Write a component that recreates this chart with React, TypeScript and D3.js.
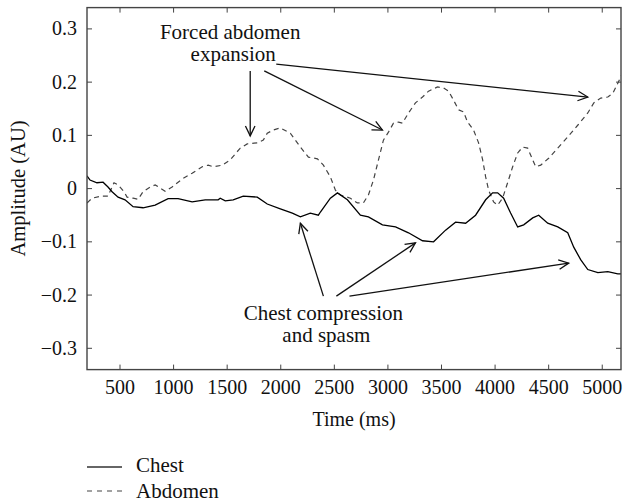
import React from "react";
import * as d3 from "d3";

const timeChest = [192, 220, 285, 342, 388, 426, 482, 547, 622, 715, 828, 949, 1042, 1173, 1295, 1416, 1435, 1482, 1556, 1650, 1781, 1874, 1996, 2108, 2183, 2276, 2351, 2370, 2463, 2529, 2622, 2743, 2818, 2949, 3071, 3192, 3323, 3426, 3538, 3631, 3725, 3818, 3912, 3977, 4024, 4080, 4145, 4211, 4267, 4351, 4407, 4491, 4585, 4678, 4734, 4800, 4865, 4959, 5052, 5145, 5183];
const chest = [0.024, 0.016, 0.011, 0.012, 0.003, -0.006, -0.016, -0.021, -0.034, -0.036, -0.031, -0.019, -0.019, -0.025, -0.021, -0.021, -0.018, -0.023, -0.021, -0.014, -0.016, -0.029, -0.038, -0.046, -0.053, -0.046, -0.05, -0.044, -0.018, -0.008, -0.021, -0.05, -0.053, -0.068, -0.072, -0.083, -0.098, -0.1, -0.078, -0.063, -0.065, -0.05, -0.021, -0.008, -0.008, -0.018, -0.046, -0.072, -0.068, -0.055, -0.05, -0.065, -0.072, -0.083, -0.11, -0.134, -0.152, -0.158, -0.156, -0.16, -0.16];

const timeAbdomen = [192, 239, 332, 388, 444, 482, 538, 566, 622, 669, 715, 781, 828, 874, 921, 986, 1080, 1173, 1267, 1323, 1370, 1454, 1528, 1622, 1687, 1781, 1837, 1874, 1930, 1996, 2089, 2183, 2258, 2342, 2398, 2463, 2510, 2557, 2650, 2715, 2771, 2818, 2865, 2912, 2958, 3005, 3052, 3099, 3136, 3192, 3257, 3323, 3379, 3463, 3519, 3566, 3613, 3659, 3706, 3743, 3799, 3846, 3884, 3912, 3940, 3986, 4024, 4070, 4117, 4164, 4211, 4257, 4304, 4351, 4379, 4426, 4500, 4585, 4678, 4771, 4865, 4921, 4986, 5052, 5099, 5145, 5183];
const abdomen = [-0.027, -0.018, -0.014, -0.014, 0.011, 0.007, -0.006, -0.016, -0.018, -0.02, -0.006, 0.003, 0.007, 0.001, -0.005, 0.003, 0.018, 0.029, 0.041, 0.044, 0.041, 0.044, 0.054, 0.076, 0.084, 0.086, 0.091, 0.104, 0.11, 0.114, 0.104, 0.078, 0.059, 0.056, 0.044, 0.022, -0.003, -0.012, -0.018, -0.027, -0.027, -0.012, 0.016, 0.054, 0.091, 0.106, 0.123, 0.125, 0.123, 0.142, 0.161, 0.172, 0.183, 0.191, 0.189, 0.183, 0.166, 0.148, 0.144, 0.125, 0.11, 0.086, 0.054, 0.022, -0.003, -0.025, -0.031, -0.018, 0.011, 0.041, 0.067, 0.078, 0.076, 0.054, 0.041, 0.044, 0.057, 0.076, 0.097, 0.119, 0.142, 0.161, 0.17, 0.172, 0.179, 0.198, 0.214];

const xTicks = [500, 1000, 1500, 2000, 2500, 3000, 3500, 4000, 4500, 5000];
const yTicks = [0.3, 0.2, 0.1, 0, -0.1, -0.2, -0.3];
const seriesNames = ["Chest", "Abdomen"];

// annotation arrows: [fromT, fromV, toT, toV]
const abdArrows = [
  [1715, 0.221, 1715, 0.099],
  [1846, 0.221, 2949, 0.11],
  [1958, 0.234, 4865, 0.172],
];
const chestArrows = [
  [2398, -0.202, 2183, -0.065],
  [2519, -0.202, 3257, -0.102],
  [2641, -0.202, 4687, -0.14],
];
const abdLabel = ["Forced abdomen", "expansion"];
const chestLabel = ["Chest compression", "and spasm"];

const W = 623, H = 502;
const L = 87, R = 621, T = 7.6, B = 369.6;
const FONT = "Liberation Serif, Times New Roman, serif";
const ts = (size: number) => ({ fontFamily: FONT, fontSize: size + "px" });

function fmt(v: number) {
  if (v === 0) return "0";
  const s = Math.abs(v).toFixed(1);
  return (v < 0 ? "\u2212" : "") + s;
}

function Arrow({ x1, y1, x2, y2 }: { x1: number; y1: number; x2: number; y2: number }) {
  const ang = Math.atan2(y2 - y1, x2 - x1);
  const len = 11, spread = 0.45;
  const a1 = ang + Math.PI - spread, a2 = ang + Math.PI + spread;
  return (
    <g stroke="#111" strokeWidth={1.3} fill="none">
      <line x1={x1} y1={y1} x2={x2} y2={y2} />
      <polyline points={`${x2 + len * Math.cos(a1)},${y2 + len * Math.sin(a1)} ${x2},${y2} ${x2 + len * Math.cos(a2)},${y2 + len * Math.sin(a2)}`} />
    </g>
  );
}

export default function App() {
  const x = d3.scaleLinear().domain([192, 5175]).range([L, R]);
  const y = d3.scaleLinear().domain([-0.34, 0.34]).range([B, T]);
  const line = d3.line<[number, number]>().x((d) => x(d[0])).y((d) => y(d[1]));
  const chestPts = timeChest.map((t, i) => [t, chest[i]] as [number, number]);
  const abdPts = timeAbdomen.map((t, i) => [t, abdomen[i]] as [number, number]);
  const tick = 5;
  return (
    <svg width={W} height={H} style={{ position: "absolute", left: 0, top: 0, background: "#fff" }}>
      <defs>
        <clipPath id="plot">
          <rect x={L} y={T} width={R - L} height={B - T} />
        </clipPath>
      </defs>
      <g clipPath="url(#plot)" fill="none">
        <path d={line(abdPts) || ""} stroke="#444" strokeWidth={1.2} strokeDasharray="5,4" />
        <path d={line(chestPts) || ""} stroke="#000" strokeWidth={1.3} />
      </g>
      <g stroke="#444" strokeWidth={1}>
        {xTicks.map((t) => (
          <g key={t}>
            <line x1={x(t)} x2={x(t)} y1={B} y2={B - tick} />
            <line x1={x(t)} x2={x(t)} y1={T} y2={T + tick} />
          </g>
        ))}
        {yTicks.map((v) => (
          <g key={v}>
            <line x1={L} x2={L + tick} y1={y(v)} y2={y(v)} />
            <line x1={R} x2={R - tick} y1={y(v)} y2={y(v)} />
          </g>
        ))}
      </g>
      <rect x={L} y={T} width={R - L} height={B - T} fill="none" stroke="#444" strokeWidth={1.4} />
      {xTicks.map((t) => (
        <text key={t} x={x(t)} y={393.5} style={ts(20)} textAnchor="middle" fill="#111">
          {t}
        </text>
      ))}
      {yTicks.map((v) => (
        <text key={v} x={L - 10} y={y(v) + 6.5} style={ts(20)} textAnchor="end" fill="#111">
          {fmt(v)}
        </text>
      ))}
      <text x={(L + R) / 2} y={426} style={ts(20)} textAnchor="middle" fill="#111">
        Time (ms)
      </text>
      <text transform={`translate(25, 188.5) rotate(-90)`} style={ts(20.5)} textAnchor="middle" fill="#111">
        Amplitude (AU)
      </text>
      {abdArrows.concat(chestArrows).map((a, i) => (
        <Arrow key={i} x1={x(a[0])} y1={y(a[1])} x2={x(a[2])} y2={y(a[3])} />
      ))}
      <text x={x(1528)} y={y(0.294) + 7} style={ts(21)} textAnchor="middle" fill="#111">{abdLabel[0]}</text>
      <text x={x(1556)} y={y(0.249) + 5} style={ts(21)} textAnchor="middle" fill="#111">{abdLabel[1]}</text>
      <text x={x(2398)} y={y(-0.233) + 7} style={ts(21)} textAnchor="middle" fill="#111">{chestLabel[0]}</text>
      <text x={x(2426)} y={y(-0.278) + 5} style={ts(21)} textAnchor="middle" fill="#111">{chestLabel[1]}</text>
      <line x1={87} x2={122} y1={467} y2={467} stroke="#333" strokeWidth={1.4} />
      <text x={136} y={472} style={ts(21)} fill="#111">{seriesNames[0]}</text>
      <line x1={87} x2={122} y1={491} y2={491} stroke="#444" strokeWidth={1.2} strokeDasharray="5,5" />
      <text x={136} y={498} style={ts(21)} fill="#111">{seriesNames[1]}</text>
    </svg>
  );
}
